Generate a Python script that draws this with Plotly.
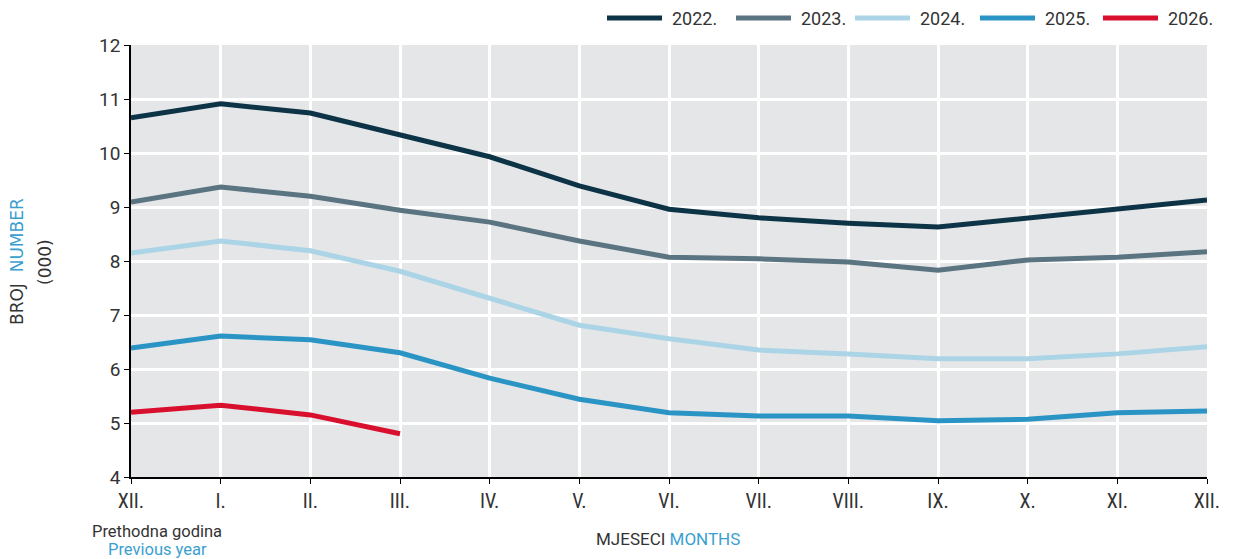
import plotly.graph_objects as go

months = ["XII.", "I.", "II.", "III.", "IV.", "V.", "VI.", "VII.", "VIII.", "IX.", "X.", "XI.", "XII."]
x_pos = list(range(len(months)))

s2022 = [10.65, 10.91, 10.74, 10.33, 9.93, 9.39, 8.96, 8.80, 8.70, 8.63, 8.80, 8.96, 9.13]
s2023 = [9.09, 9.37, 9.20, 8.94, 8.72, 8.37, 8.07, 8.04, 7.98, 7.83, 8.02, 8.07, 8.17]
s2024 = [8.15, 8.37, 8.19, 7.81, 7.31, 6.81, 6.56, 6.35, 6.28, 6.19, 6.19, 6.28, 6.41]
s2025 = [6.39, 6.61, 6.54, 6.30, 5.83, 5.44, 5.19, 5.13, 5.13, 5.04, 5.07, 5.19, 5.22]
s2026 = [5.20, 5.33, 5.15, 4.80]

series_names = ["2022.", "2023.", "2024.", "2025.", "2026."]
series_values = [s2022, s2023, s2024, s2025, s2026]
colors = ["#0c3446", "#5b7482", "#abd5e6", "#2a95c5", "#d90f2e"]

y_ticks = [4, 5, 6, 7, 8, 9, 10, 11, 12]

NARROW = "Liberation Sans Narrow, Arial Narrow, Roboto Condensed, sans-serif"
MAIN = "Roboto, sans-serif"
WIDE = "DejaVu Sans, sans-serif"
BLUE = "#3a9fd0"
TXT = "#333333"

# page offset (body margin) in pixels
OX, OY = 8, 8
# target plot area in screenshot pixels
PL, PR, PT, PB = 131, 1207, 45, 477
PW, PH = PR - PL, PB - PT


def px(xp):
    return (xp - PL) / PW


def py(yp):
    return (PB - yp) / PH


fig = go.Figure()
for name, vals, col in zip(series_names, series_values, colors):
    fig.add_trace(go.Scatter(
        x=x_pos[:len(vals)], y=vals, mode="lines", name=name,
        line=dict(color=col, width=5), showlegend=False,
    ))

# manual legend (top right)
leg_x0 = [607, 736, 855, 980, 1103]
for name, col, lx in zip(series_names, colors, leg_x0):
    fig.add_shape(type="line", xref="paper", yref="paper",
                  x0=px(lx), x1=px(lx + 55), y0=py(18), y1=py(18),
                  line=dict(color=col, width=5))
    fig.add_annotation(xref="paper", yref="paper", x=px(lx + 63), y=py(18),
                       text=name, showarrow=False, xanchor="left", yanchor="middle",
                       font=dict(family=MAIN, size=18, color=TXT))

fig.add_annotation(xref="paper", yref="paper", x=px(17), y=py(262),
                   text="BROJ  <span style='color:%s'>NUMBER</span>" % BLUE,
                   textangle=-90, showarrow=False, xanchor="center", yanchor="middle",
                   font=dict(family=WIDE, size=17, color=TXT))
fig.add_annotation(xref="paper", yref="paper", x=px(45), y=py(262),
                   text="(000)", textangle=-90, showarrow=False, xanchor="center", yanchor="middle",
                   font=dict(family=WIDE, size=17, color=TXT))
fig.add_annotation(xref="paper", yref="paper", x=px(668), y=py(539),
                   text="MJESECI <span style='color:%s'>MONTHS</span>" % BLUE,
                   showarrow=False, xanchor="center", yanchor="middle",
                   font=dict(family=MAIN, size=17, color=TXT))
fig.add_annotation(xref="paper", yref="paper", x=px(157), y=py(531),
                   text="Prethodna godina", showarrow=False, xanchor="center", yanchor="middle",
                   font=dict(family=MAIN, size=16.5, color=TXT))
fig.add_annotation(xref="paper", yref="paper", x=px(157), y=py(549),
                   text="Previous year", showarrow=False, xanchor="center", yanchor="middle",
                   font=dict(family=MAIN, size=16.5, color=BLUE))

W, H = 1234 - OX, 559 - OY
fig.update_layout(
    width=W, height=H,
    margin=dict(l=PL - OX, r=W - (PR - OX), t=PT - OY, b=H - (PB - OY), pad=0),
    paper_bgcolor="white", plot_bgcolor="#e5e6e8",
    showlegend=False,
    xaxis=dict(range=[0, 12], tickvals=x_pos, ticktext=months,
               showgrid=True, gridcolor="white", gridwidth=3,
               showline=True, linecolor="black", linewidth=1.5,
               ticks="outside", ticklen=5, tickcolor="black",
               ticklabelstandoff=0,
               tickfont=dict(family=NARROW, size=20, color=TXT),
               zeroline=False, fixedrange=True),
    yaxis=dict(range=[4, 12], tickvals=y_ticks,
               showgrid=True, gridcolor="white", gridwidth=3,
               showline=True, linecolor="black", linewidth=1.5,
               ticks="outside", ticklen=5, tickcolor="black",
               tickfont=dict(family=MAIN, size=19, color=TXT),
               zeroline=False, fixedrange=True),
)

fig.write_html("out.html")
